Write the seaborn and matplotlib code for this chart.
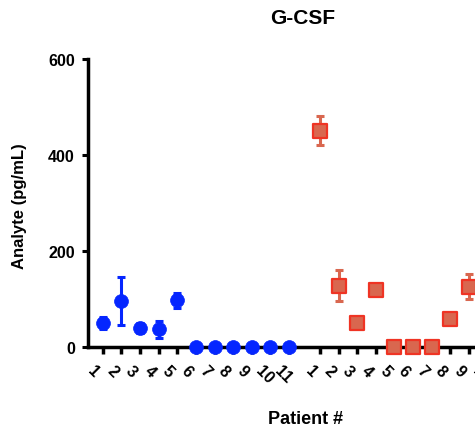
import numpy as np
import pandas as pd
import seaborn as sns
import matplotlib
matplotlib.use('Agg')
import matplotlib.pyplot as plt
import matplotlib.transforms as mtransforms

# Data (G-CSF, pg/mL)
blue_patients = [1, 2, 3, 4, 5, 6, 7, 8, 9, 10, 11]
blue_values = [50, 96, 40, 37, 97, 0, 0, 0, 0, 0, 0]
blue_errors = [12, 50, 10, 18, 15, 0, 0, 0, 0, 0, 0]

red_patients = [1, 2, 3, 4, 5, 6, 7, 8, 9]
red_values = [451, 128, 51, 119, 0, 0, 0, 59, 126]
red_errors = [31, 33, 0, 0, 0, 0, 0, 0, 27]

tick_labels = [str(i) for i in range(1, 12)] * 2

blue_color = "#0526ff"
red_face = "#d9674f"
red_edge = "#ef3424"

# x positions: second group shifted past the first with a gap
red_offset = 11.67
blue_df = pd.DataFrame({"pos": np.array(blue_patients, dtype=float),
                        "value": blue_values, "err": blue_errors})
red_df = pd.DataFrame({"pos": np.array(red_patients, dtype=float) + red_offset,
                       "value": red_values, "err": red_errors})
tick_pos = list(range(1, 12)) + [p + red_offset for p in range(1, 12)]

sns.set_style("ticks")
plt.rcParams['font.family'] = ['Liberation Sans', 'DejaVu Sans']
plt.rcParams['text.color'] = 'black'
plt.rcParams['xtick.color'] = 'black'
plt.rcParams['ytick.color'] = 'black'
plt.rcParams['axes.edgecolor'] = 'black'

fig = plt.figure(figsize=(4.75, 4.35), dpi=100)
# axes run past the right edge of the figure, like the cropped original
ax = fig.add_axes([88 / 475, 87 / 435, 433 / 475, 288 / 435])

ax.errorbar(blue_df["pos"], blue_df["value"], yerr=blue_df["err"], fmt="none",
            ecolor=blue_color, elinewidth=2.2, capsize=2.6, capthick=2.2,
            zorder=3, clip_on=False)
ax.errorbar(red_df["pos"], red_df["value"], yerr=red_df["err"], fmt="none",
            ecolor=red_face, elinewidth=2.2, capsize=2.6, capthick=2.2,
            zorder=3, clip_on=False)

sns.scatterplot(data=blue_df, x="pos", y="value", ax=ax, color=blue_color,
                marker="o", s=100, edgecolor=blue_color, linewidth=0.5,
                legend=False, zorder=4, clip_on=False)
sns.scatterplot(data=red_df, x="pos", y="value", ax=ax, color=red_face,
                marker="s", s=90, edgecolor=red_edge, linewidth=1.6,
                legend=False, zorder=4, clip_on=False)

sns.despine(ax=ax)
ax.spines['left'].set_linewidth(2.5)
ax.spines['bottom'].set_linewidth(2.5)

ax.set_xlim(0.2, red_offset + 11.8)
ax.set_ylim(0, 600)
ax.set_yticks([0, 200, 400, 600])
ax.set_yticklabels(["0", "200", "400", "600"], fontsize=11.5,
                   fontweight="bold")
ax.tick_params(axis="y", length=4.5, width=2.2, pad=5)

ax.set_xticks(tick_pos)
ax.set_xticklabels(tick_labels, fontsize=11.5, fontweight="bold",
                   rotation=-45, ha="left", va="top",
                   rotation_mode="anchor")
ax.tick_params(axis="x", length=5, width=2.5, pad=6)
offset = mtransforms.ScaledTranslation(-5 / 72, 0, fig.dpi_scale_trans)
for lbl in ax.get_xticklabels():
    lbl.set_transform(lbl.get_transform() + offset)

ax.set_xlabel("")
ax.set_ylabel("")
fig.text(20 / 475, 1 - 206 / 435, "Analyte (pg/mL)", rotation=90,
         ha="center", va="center", fontsize=12, fontweight="bold")
fig.text(305 / 475, 1 - 420 / 435, "Patient #", ha="center", va="center",
         fontsize=13, fontweight="bold")
fig.text(303 / 475, 1 - 18 / 435, "G-CSF", ha="center", va="center",
         fontsize=15, fontweight="bold")

fig.savefig("out.png", dpi=100)
plt.close(fig)
